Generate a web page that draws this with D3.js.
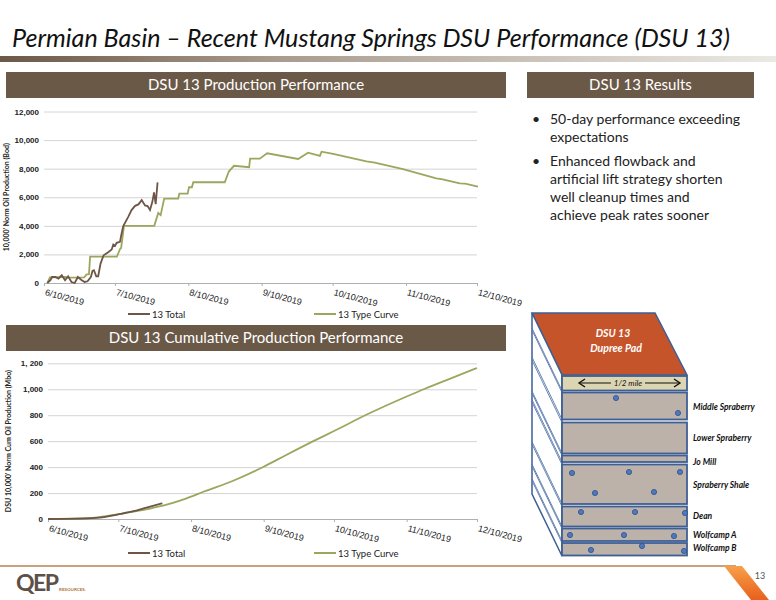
<!DOCTYPE html>
<html>
<head>
<meta charset="utf-8">
<script src="https://cdn.jsdelivr.net/npm/d3@7"></script>
<style>
  body { margin: 0; background: #fff; }
  svg { display: block; font-family: Lato, "Open Sans", sans-serif; }
</style>
</head>
<body>
<svg id="slide" width="776" height="600"></svg>
<script>
// ---- data (days counted from 6/10/2019) ----
const startDate = Date.UTC(2019, 5, 10);
const endDate = Date.UTC(2019, 11, 10);
const tickDates = ["2019-06-10", "2019-07-10", "2019-08-10", "2019-09-10", "2019-10-10", "2019-11-10", "2019-12-10"];
const tickLabels = ["6/10/2019", "7/10/2019", "8/10/2019", "9/10/2019", "10/10/2019", "11/10/2019", "12/10/2019"];

const rateTicks = [0, 2000, 4000, 6000, 8000, 10000, 12000];
const rateTickLabels = ["0", "2,000", "4,000", "6,000", "8,000", "10,000", "12,000"];
const cumTicks = [0, 200, 400, 600, 800, 1000, 1200];
const cumTickLabels = ["0", "200", "400", "600", "800", "1,000", "1, 200"];

const seriesNames = ["13 Total", "13 Type Curve"];

// daily rate, Bod
const typeRateDays = [1.4, 2.5, 9, 10, 17, 18, 19, 19.5, 30.8, 32.2, 32.6, 33.8, 46.6, 48.3, 49.3, 50.8, 56.7, 57.2, 60.7, 61.3, 62.5, 63.1, 76.4, 78.1, 80.3, 86.7, 87.1, 91.2, 94.3, 107.4, 111.6, 116.6, 117.3, 122.2, 136.3, 139.8, 151.7, 165.8, 168, 175.7, 178, 183.4];
const typeRate = [0, 400, 420, 380, 400, 600, 620, 1850, 1850, 2400, 2450, 4000, 4000, 4900, 4750, 5900, 5900, 6250, 6250, 6700, 6700, 7050, 7050, 7800, 8200, 8100, 8700, 8700, 9075, 8680, 9120, 8890, 9190, 9030, 8510, 8420, 7975, 7320, 7275, 6970, 6960, 6740];

const totalRateDays = [1.4, 2.7, 3.4, 4.8, 6.1, 7.5, 8.9, 10.2, 11.6, 13, 14.3, 15.7, 17.1, 18.4, 19.8, 20.5, 21.1, 22.1, 22.9, 23.9, 25.2, 27.3, 28.6, 29.3, 30, 30.7, 32.1, 32.8, 33.5, 35.6, 37, 38.5, 39.9, 41.3, 42.7, 43.8, 44.8, 45.8, 46.5, 47.2, 48];
const totalRate = [0, 190, 420, 420, 300, 540, 190, 470, 70, 0, 420, 230, 70, 120, 420, 840, 890, 470, 470, 1360, 1940, 2175, 2340, 2690, 2600, 2810, 2880, 3460, 3980, 4630, 5100, 5400, 5500, 5800, 5430, 5380, 5100, 5680, 6340, 5520, 7040];

// cumulative, Mbo
const typeCumDays = [0, 15, 22, 30, 36, 43.5, 50.6, 56.3, 61, 66.3, 79, 92, 101.8, 113.2, 122, 136, 153, 160.8, 170, 183];
const typeCum = [0, 6, 15, 38, 55, 80, 110, 141, 172, 210, 295, 403, 495, 600, 678, 805, 944, 1004, 1070, 1164];
const totalCumDays = [0, 15, 22, 30, 36, 42, 48.8];
const totalCum = [0, 3, 10, 36, 58, 88, 121];

const bullets = [
  ["50-day performance exceeding", "expectations"],
  ["Enhanced flowback and", "artificial lift strategy shorten", "well cleanup times and", "achieve peak rates sooner"]
];
const layerNames = ["Middle Spraberry", "Lower Spraberry", "Jo Mill", "Spraberry Shale", "Dean", "Wolfcamp A", "Wolfcamp B"];

const brown = "#6e5646";
const green = "#9ba65e";
const headerFill = "#6b5948";

const svg = d3.select("#slide");
const dayToDate = d => new Date(startDate + d * 864e5);
const zip = (a, b) => a.map((v, i) => [v, b[i]]);

// ---- title + band ----
const defs = svg.append("defs");
const band = defs.append("linearGradient").attr("id", "band");
band.append("stop").attr("offset", "0").attr("stop-color", "#6b5846");
band.append("stop").attr("offset", "0.35").attr("stop-color", "#a89a8c");
band.append("stop").attr("offset", "1").attr("stop-color", "#ece9e5");
const stripe = defs.append("linearGradient").attr("id", "stripe").attr("x1", 0).attr("y1", 0).attr("x2", 0).attr("y2", 1);
stripe.append("stop").attr("offset", "0").attr("stop-color", "#f7a04a");
stripe.append("stop").attr("offset", "1").attr("stop-color", "#e8601c");

svg.append("text")
  .attr("x", 12).attr("y", 47)
  .attr("font-size", 26).attr("font-style", "italic")
  .attr("fill", "#111")
  .attr("textLength", 718).attr("lengthAdjust", "spacingAndGlyphs")
  .text("Permian Basin \u2013 Recent Mustang Springs DSU Performance (DSU 13)");

svg.append("rect").attr("x", 0).attr("y", 56).attr("width", 776).attr("height", 6).attr("fill", "url(#band)");

function header(x, y, w, label) {
  svg.append("rect").attr("x", x).attr("y", y).attr("width", w).attr("height", 26).attr("fill", headerFill);
  svg.append("text")
    .attr("x", x + w / 2).attr("y", y + 18)
    .attr("text-anchor", "middle")
    .attr("font-size", 15).attr("fill", "#fff")
    .text(label);
}
header(6, 72, 500, "DSU 13 Production Performance");
header(527, 72, 227, "DSU 13 Results");
header(6, 325, 500, "DSU 13 Cumulative Production Performance");

// ---- charts ----
function drawChart(opts) {
  const g = svg.append("g");
  const x = d3.scaleUtc().domain([new Date(startDate), new Date(endDate)]).range([opts.left, 477]);
  const y = d3.scaleLinear().domain([0, opts.max]).range([opts.bottom, opts.top]);

  const yAxis = g.append("g")
    .attr("transform", `translate(${opts.left},0)`)
    .call(d3.axisLeft(y).tickValues(opts.ticks)
      .tickFormat((d, i) => opts.tickLabels[i])
      .tickSize(-(477 - opts.left)).tickPadding(5));
  yAxis.select(".domain").remove();
  yAxis.selectAll(".tick line").attr("stroke", "#d4d4d4");
  yAxis.selectAll(".tick text").attr("font-size", 8).attr("fill", "#222").attr("font-weight", "bold");

  const xAxis = g.append("g")
    .attr("transform", `translate(0,${opts.bottom})`)
    .call(d3.axisBottom(x).tickValues(tickDates.map(d => new Date(d + "T00:00:00Z")))
      .tickFormat((d, i) => tickLabels[i]).tickSize(3).tickSizeOuter(0));
  xAxis.select(".domain").attr("stroke", "#b0b0b0");
  xAxis.selectAll(".tick line").attr("stroke", "#b0b0b0");
  xAxis.selectAll(".tick text")
    .attr("font-size", 9).attr("fill", "#222")
    .attr("text-anchor", "start")
    .attr("dy", 0).attr("y", 0)
    .attr("transform", "translate(0,12) rotate(15)");

  const line = d3.line()
    .x(d => x(dayToDate(d[0])))
    .y(d => y(d[1]))
    .curve(opts.curve);

  g.append("path").datum(opts.type)
    .attr("d", line).attr("fill", "none")
    .attr("stroke", green).attr("stroke-width", 1.8);
  g.append("path").datum(opts.total)
    .attr("d", line).attr("fill", "none")
    .attr("stroke", brown).attr("stroke-width", 1.8);

  // y title
  g.append("text")
    .attr("transform", `translate(${opts.titleX},${(opts.top + opts.bottom) / 2}) rotate(-90)`)
    .attr("text-anchor", "middle")
    .attr("font-size", 7).attr("font-weight", "bold").attr("fill", "#222")
    .text(opts.title);

  // legend
  const lg = g.append("g").attr("transform", `translate(0,${opts.legendY})`);
  [[128, brown], [314, green]].forEach(([lx, c], i) => {
    lg.append("line").attr("x1", lx).attr("x2", lx + 22).attr("stroke", c).attr("stroke-width", 2);
    lg.append("text").attr("x", lx + 24).attr("y", 3.5)
      .attr("font-size", 9.5).attr("fill", "#222").text(seriesNames[i]);
  });
}

drawChart({
  left: 44, top: 111.5, bottom: 283, max: 12000,
  ticks: rateTicks, tickLabels: rateTickLabels,
  type: zip(typeRateDays, typeRate), total: zip(totalRateDays, totalRate),
  curve: d3.curveLinear, title: "10,000' Norm Oil Production (Bod)", titleX: 9, legendY: 314
});
drawChart({
  left: 48, top: 363.3, bottom: 519, max: 1200,
  ticks: cumTicks, tickLabels: cumTickLabels,
  type: zip(typeCumDays, typeCum), total: zip(totalCumDays, totalCum),
  curve: d3.curveMonotoneX, title: "DSU 10,000' Norm Cum Oil Production (Mbo)", titleX: 11, legendY: 553
});

// ---- bullets ----
let by = 124;
bullets.forEach(lines => {
  svg.append("text").attr("x", 532).attr("y", by).attr("font-size", 14).attr("fill", "#222").text("\u2022");
  lines.forEach(t => {
    svg.append("text").attr("x", 550).attr("y", by).attr("font-size", 14).attr("fill", "#222").text(t);
    by += 18;
  });
  by += 6;
});

// ---- well diagram ----
const dg = svg.append("g");
const blue = "#3d5f95";
const L = 532, F = 562, R = 687, sy = 62.3;
dg.append("polygon")
  .attr("points", `${L},313 655,313 ${R},375 ${F},375`)
  .attr("fill", "#c6542b").attr("stroke", blue).attr("stroke-width", 1.5);
dg.append("polygon")
  .attr("points", `${L},313 ${F},375 ${F},556 ${L},494`)
  .attr("fill", "#fff").attr("stroke", blue).attr("stroke-width", 1.5);

const layers = [
  [376, 390.5, "#dcd5b1"],
  [392.5, 419.5, "#bcb2aa"],
  [422.5, 453.5, "#bcb2aa"],
  [455.5, 462, "#bcb2aa"],
  [464.5, 504, "#bcb2aa"],
  [506.5, 526.5, "#bcb2aa"],
  [528.5, 541, "#bcb2aa"],
  [543, 555.5, "#bcb2aa"]
];
layers.forEach(([y0, y1], i) => {
  [y0, y1].forEach((yy, j) => {
    if ((i === 0 && j === 0) || (i === layers.length - 1 && j === 1)) return;
    dg.append("line").attr("x1", L).attr("y1", yy - sy).attr("x2", F).attr("y2", yy)
      .attr("stroke", "#5877aa").attr("stroke-width", 0.9);
  });
});
layers.forEach(([y0, y1, c]) => {
  dg.append("rect").attr("x", F).attr("y", y0).attr("width", R - F).attr("height", y1 - y0)
    .attr("fill", c).attr("stroke", blue).attr("stroke-width", 1.8);
});

dg.append("text").attr("x", 613).attr("y", 337).attr("text-anchor", "middle")
  .attr("font-size", 10.5).attr("font-weight", "bold").attr("font-style", "italic").attr("fill", "#fff").text("DSU 13");
dg.append("text").attr("x", 616).attr("y", 352).attr("text-anchor", "middle")
  .attr("font-size", 10.5).attr("font-weight", "bold").attr("font-style", "italic").attr("fill", "#fff").text("Dupree Pad");

// half-mile arrow
dg.append("line").attr("x1", 579).attr("x2", 680).attr("y1", 383).attr("y2", 383).attr("stroke", "#111").attr("stroke-width", 1.2);
dg.append("path").attr("d", "M585,379 L579,383 L585,387 M674,379 L680,383 L674,387")
  .attr("fill", "none").attr("stroke", "#111").attr("stroke-width", 1.4);
dg.append("rect").attr("x", 611).attr("y", 378).attr("width", 34).attr("height", 10).attr("fill", "#dcd5b1");
dg.append("text").attr("x", 628).attr("y", 386).attr("text-anchor", "middle")
  .attr("font-size", 8).attr("font-style", "italic").attr("fill", "#111").text("1/2 mile");

const wells = [
  [616, 398], [678, 413],
  [572, 473], [629, 472], [680, 472], [595, 493], [654, 492],
  [581, 512], [635, 512], [685, 513],
  [570, 535], [624, 535], [674, 536],
  [591, 550], [642, 546], [684, 551]
];
dg.selectAll("circle.well").data(wells).join("circle")
  .attr("class", "well")
  .attr("cx", d => d[0]).attr("cy", d => d[1]).attr("r", 2.6)
  .attr("fill", "#4f78bd").attr("stroke", "#2f518d").attr("stroke-width", 0.8);

const labelY = [410, 441, 465, 488, 519, 538, 551];
layerNames.forEach((n, i) => {
  dg.append("text").attr("x", 693).attr("y", labelY[i])
    .attr("font-size", 8.5).attr("font-weight", "bold").attr("font-style", "italic").attr("fill", "#111").text(n);
});

// ---- footer ----
svg.append("rect").attr("x", 0).attr("y", 565).attr("width", 736).attr("height", 2).attr("fill", "#c9a27d");
svg.append("polygon").attr("points", "724,566 742,566 769,600 751,600").attr("fill", "url(#stripe)");
svg.append("text").attr("x", 760).attr("y", 579).attr("text-anchor", "middle")
  .attr("font-size", 9).attr("fill", "#555").text("13");

svg.append("text").attr("x", 16).attr("y", 591)
  .attr("font-size", 23).attr("font-weight", "bold").attr("fill", "#5c5048")
  .attr("letter-spacing", -1.5).text("QEP");
svg.append("text").attr("x", 59).attr("y", 590.5)
  .attr("font-size", 4.5).attr("font-weight", "bold").attr("fill", "#b0703a").text("RESOURCES.");
</script>
</body>
</html>
